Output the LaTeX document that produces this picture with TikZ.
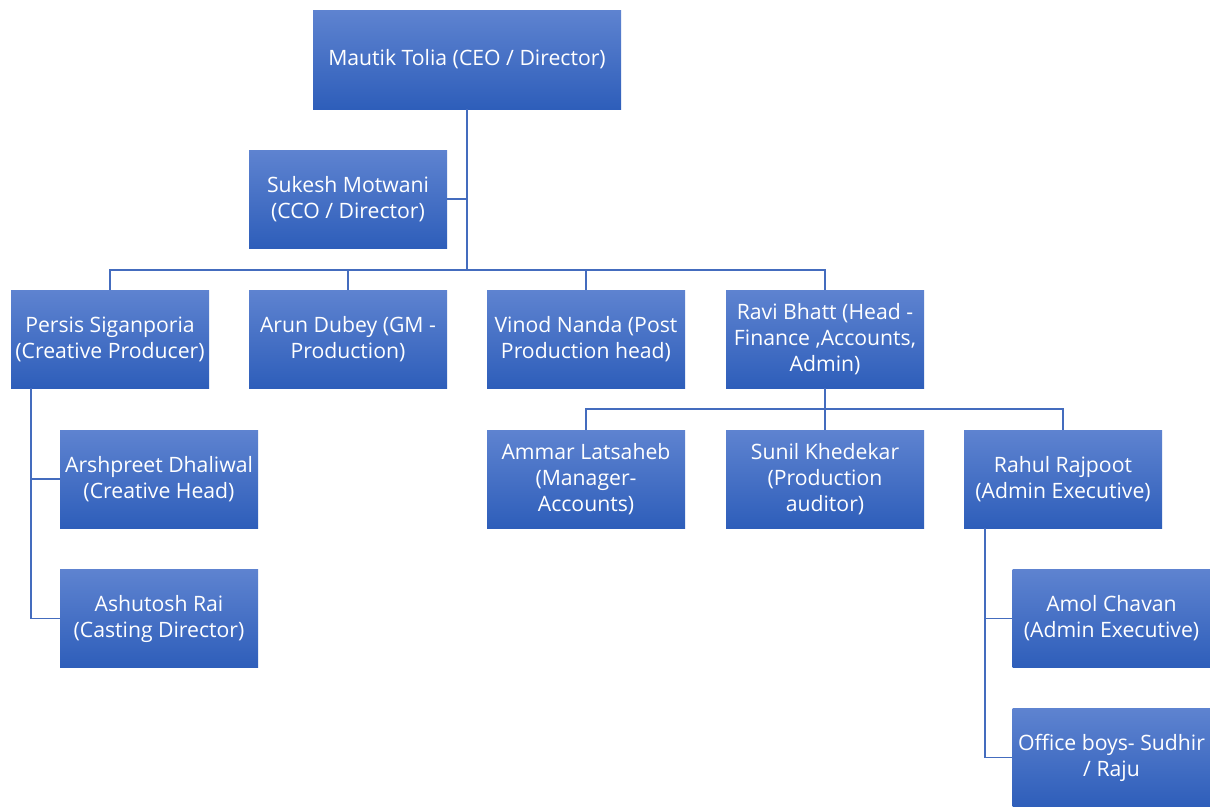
\documentclass[tikz,border=0pt]{standalone}
\usepackage{fontspec}
\setmainfont{Open Sans}
\definecolor{btop}{RGB}{94,131,208}
\definecolor{bbot}{RGB}{46,94,186}
\definecolor{lnk}{RGB}{68,108,190}
\begin{document}
\begin{tikzpicture}[x=1pt,y=-1pt,
  box/.style={rectangle, minimum width=198pt, minimum height=98pt, inner sep=0pt,
    top color=btop, bottom color=bbot, draw=none, text=white, align=center,
    font=\fontsize{21.2}{26}\selectfont},
  link/.style={draw=lnk, line width=1.4pt}]
\useasboundingbox (0,0) rectangle (1210,806);
\fill[white] (0,0) rectangle (1210,806);

\node[box, minimum width=308pt, minimum height=99pt] (ceo) at (467,59.5) {Mautik Tolia (CEO / Director)};
\node[box] (sukesh) at (348,199) {Sukesh Motwani\\(CCO / Director)};

\node[box] (persis) at (110,339) {Persis Siganporia\\(Creative Producer)};
\node[box] (arun) at (348,339) {Arun Dubey (GM -\\Production)};
\node[box] (vinod) at (586,339) {Vinod Nanda (Post\\Production head)};
\node[box] (ravi) at (825,339) {Ravi Bhatt (Head -\\Finance ,Accounts,\\Admin)};

\node[box] (arsh) at (159,479) {Arshpreet Dhaliwal\\(Creative Head)};
\node[box] (ashu) at (159,618.5) {Ashutosh Rai\\(Casting Director)};

\node[box] (ammar) at (586,479) {Ammar Latsaheb\\(Manager-\\Accounts)};
\node[box] (sunil) at (825,479) {Sunil Khedekar\\(Production\\auditor)};
\node[box] (rahul) at (1063,479) {Rahul Rajpoot\\(Admin Executive)};

\node[box] (amol) at (1111.5,618.5) {Amol Chavan\\(Admin Executive)};
\node[box] (office) at (1111.5,757.5) {Office boys- Sudhir\\/ Raju};

\coordinate (bus) at (467,270);
\draw[link] (ceo.south) -- (bus);
\draw[link] (sukesh.east) -- (sukesh.east -| ceo.south);
\draw[link] (persis.north) -- ++(0,-20) -| (ravi.north);
\draw[link] (arun.north) -- ++(0,-20);
\draw[link] (vinod.north) -- ++(0,-20);

\coordinate (pl) at (31,388);
\draw[link] (pl) |- (ashu.west);
\draw[link] (pl |- arsh.west) -- (arsh.west);

\draw[link] (ravi.south) -- ++(0,21);
\draw[link] (ammar.north) -- ++(0,-21) -| (rahul.north);
\draw[link] (sunil.north) -- ++(0,-21);

\coordinate (rl) at (985,528);
\draw[link] (rl) |- (office.west);
\draw[link] (rl |- amol.west) -- (amol.west);
\end{tikzpicture}
\end{document}
